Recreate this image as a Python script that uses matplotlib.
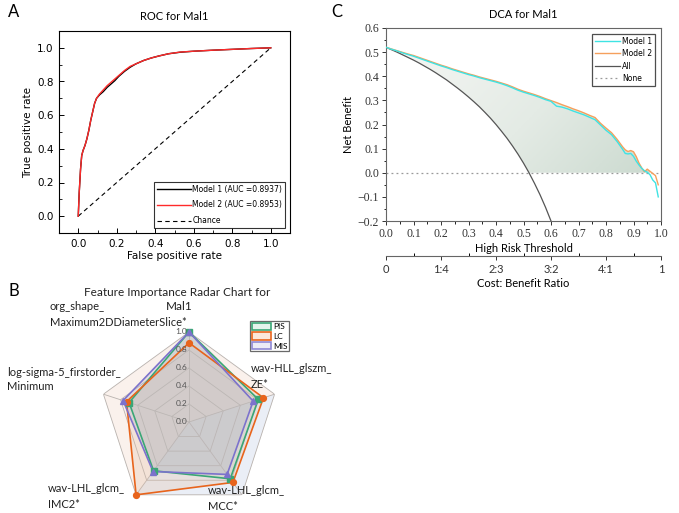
import numpy as np
import matplotlib
matplotlib.use('Agg')
import matplotlib.pyplot as plt
from matplotlib.patches import Patch
from matplotlib.path import Path
from matplotlib.colors import LinearSegmentedColormap

# ---------------- data ----------------
# ROC (panel A)
fpr = [0, 0.005, 0.012, 0.018, 0.025, 0.035, 0.045, 0.055, 0.065, 0.075, 0.085, 0.095,
       0.11, 0.13, 0.15, 0.17, 0.19, 0.21, 0.24, 0.27, 0.30, 0.34, 0.38, 0.42, 0.47,
       0.53, 0.60, 0.70, 0.80, 0.90, 1.0]
tpr_m1 = [0, 0.14, 0.28, 0.36, 0.39, 0.42, 0.46, 0.51, 0.57, 0.62, 0.67, 0.70,
          0.72, 0.74, 0.765, 0.785, 0.805, 0.83, 0.86, 0.885, 0.905, 0.925, 0.94, 0.952, 0.965,
          0.974, 0.98, 0.986, 0.991, 0.996, 1.0]
tpr_m2 = [0, 0.14, 0.28, 0.36, 0.39, 0.42, 0.46, 0.51, 0.57, 0.62, 0.67, 0.70,
          0.725, 0.75, 0.775, 0.795, 0.815, 0.835, 0.865, 0.89, 0.905, 0.925, 0.94, 0.952, 0.965,
          0.975, 0.98, 0.986, 0.991, 0.996, 1.0]
roc_labels = ['Model 1 (AUC =0.8937)', 'Model 2 (AUC =0.8953)', 'Chance']

# DCA (panel C)
thr = [0.00, 0.02, 0.04, 0.06, 0.08, 0.10, 0.12, 0.14, 0.16, 0.18, 0.20, 0.22, 0.24, 0.26,
       0.28, 0.30, 0.32, 0.34, 0.36, 0.38, 0.40, 0.42, 0.44, 0.46, 0.48, 0.50, 0.52, 0.54,
       0.56, 0.58, 0.60, 0.62, 0.64, 0.66, 0.68, 0.70, 0.72, 0.74, 0.76, 0.78, 0.80, 0.82,
       0.84, 0.86, 0.87, 0.88, 0.89, 0.90, 0.91, 0.92, 0.93, 0.94, 0.95, 0.96, 0.97, 0.98, 0.99]
nb_m1 = [0.520, 0.512, 0.505, 0.497, 0.490, 0.483, 0.475, 0.467, 0.459, 0.451, 0.443, 0.436,
         0.428, 0.421, 0.414, 0.407, 0.401, 0.394, 0.388, 0.382, 0.376, 0.369, 0.361, 0.352,
         0.342, 0.334, 0.327, 0.320, 0.312, 0.303, 0.296, 0.276, 0.272, 0.265, 0.256, 0.248,
         0.240, 0.230, 0.220, 0.198, 0.176, 0.158, 0.130, 0.098, 0.080, 0.078, 0.080, 0.068,
         0.048, 0.032, 0.018, 0.008, 0.002, -0.008, -0.030, -0.042, -0.100]
nb_m2 = [0.520, 0.513, 0.506, 0.499, 0.492, 0.486, 0.478, 0.470, 0.462, 0.454, 0.446, 0.439,
         0.431, 0.424, 0.417, 0.410, 0.404, 0.397, 0.391, 0.385, 0.379, 0.372, 0.365, 0.356,
         0.346, 0.338, 0.331, 0.324, 0.316, 0.307, 0.299, 0.291, 0.282, 0.274, 0.265, 0.257,
         0.248, 0.238, 0.229, 0.205, 0.185, 0.166, 0.139, 0.108, 0.095, 0.088, 0.092, 0.087,
         0.067, 0.040, 0.020, 0.004, 0.015, 0.006, -0.003, -0.012, -0.050]
nan = float('nan')
nb_all = [0.520, 0.510, 0.500, 0.489, 0.478, 0.467, 0.455, 0.442, 0.429, 0.415, 0.400, 0.385,
          0.368, 0.351, 0.333, 0.314, 0.294, 0.273, 0.250, 0.226, 0.200, 0.172, 0.143, 0.111,
          0.077, 0.040, 0.000, -0.044, -0.091, -0.143, -0.200, -0.263] + [nan] * 25
nb_none = [0.0] * len(thr)
ratio_pos = [0, 0.2, 0.4, 0.6, 0.8, 1.0]
ratio_labels = ['0', '1:4', '2:3', '3:2', '4:1', '1']

# Radar (panel B)
features = ['org_shape_\nMaximum2DDiameterSlice*', 'wav-HLL_glszm_\nZE*',
            'wav-LHL_glcm_\nMCC*', 'wav-LHL_glcm_\nIMC2*',
            'log-sigma-5_firstorder_\nMinimum']
pis = [1.00, 0.81, 0.78, 0.67, 0.70]
lc = [0.88, 0.87, 0.83, 1.00, 0.73]
mis = [1.00, 0.75, 0.72, 0.68, 0.77]
radial_ticks = [0.0, 0.2, 0.4, 0.6, 0.8, 1.0]

# ---------------- figure ----------------
W, H = 679, 513
fig = plt.figure(figsize=(W / 100, H / 100), dpi=100)


def fx(px):
    return px / W


def fy(py):
    return 1 - py / H


lato = ['Lato', 'DejaVu Sans']

# ---- A: ROC ----
ax1 = fig.add_axes([fx(59), fy(233), fx(290) - fx(59), fy(31) - fy(233)])
ax1.plot([0, 1], [0, 1], ls='--', color='black', lw=0.8, dashes=(4, 3), label=roc_labels[2])
ax1.plot(fpr, tpr_m1, color='black', lw=1.0, label=roc_labels[0])
ax1.plot(fpr, tpr_m2, color='#ff2a2a', lw=1.0, label=roc_labels[1])
ax1.set_xlim(-0.1, 1.1)
ax1.set_ylim(-0.1, 1.1)
ax1.set_xticks(np.arange(0, 1.01, 0.2))
ax1.set_yticks(np.arange(0, 1.01, 0.2))
ax1.set_xticks(np.arange(0.1, 1.0, 0.2), minor=True)
ax1.set_yticks(np.arange(0.1, 1.0, 0.2), minor=True)
ax1.tick_params(direction='in', length=3.5, width=0.7, labelsize=7.5, pad=4)
ax1.tick_params(which='minor', direction='in', length=2, width=0.6)
for s in ax1.spines.values():
    s.set_linewidth(0.8)
ax1.set_title('ROC for Mal1', fontsize=8, family=lato, pad=8)
ax1.set_xlabel('False positive rate', fontsize=7.5, labelpad=2)
ax1.set_ylabel('True positive rate', fontsize=7.5, labelpad=3)
h, l = ax1.get_legend_handles_labels()
ax1.legend([h[1], h[2], h[0]], [l[1], l[2], l[0]], loc='lower right', fontsize=5.5,
           frameon=True, fancybox=False, edgecolor='black', handlelength=4.5,
           borderaxespad=0.6, labelspacing=0.9, handletextpad=0.2).get_frame().set_linewidth(0.8)

# ---- C: DCA ----
ax2 = fig.add_axes([fx(386), fy(221), fx(661) - fx(386), fy(28) - fy(221)])
t = np.array(thr)
m1 = np.array(nb_m1)
m2 = np.array(nb_m2)
lower = np.fmax(np.array(nb_all), 0.0)
shade = ax2.fill_between(t, lower, m2, where=m2 >= lower, color='none', lw=0)
clip = Path.make_compound_path(*shade.get_paths())
gx, gy = np.meshgrid(np.linspace(0, 1, 200), np.linspace(0, 1, 200))
grad = gx * 0.75 + (1 - gy) * 0.5
cmap = LinearSegmentedColormap.from_list('dca', ['#f7f8f6', '#e4ebe5', '#c4d5c9'])
im = ax2.imshow(grad, extent=(0, 1, -0.2, 0.6), origin='lower', cmap=cmap,
                aspect='auto', zorder=1)
im.set_clip_path(clip, ax2.transData)
ax2.plot(t, nb_none, ls=(0, (1.5, 2.5)), color='#999999', lw=0.9, label='None', zorder=2)
ax2.plot(t, nb_all, color='#555555', lw=0.9, label='All', zorder=3)
ax2.plot(t, m2, color='#f5a05c', lw=1.0, label='Model 2', zorder=4)
ax2.plot(t, m1, color='#3fe3e3', lw=1.0, label='Model 1', zorder=5)
ax2.set_xlim(0, 1)
ax2.set_ylim(-0.2, 0.6)
ax2.set_xticks(np.arange(0, 1.01, 0.1))
ax2.set_yticks(np.arange(-0.2, 0.61, 0.1))
ax2.set_yticks(np.arange(-0.15, 0.6, 0.1), minor=True)
ax2.set_xticks(np.arange(0.05, 1.0, 0.1), minor=True)
ax2.set_xticklabels([f'{v:.1f}' for v in np.arange(0, 1.01, 0.1)])
ax2.set_yticklabels([f'{v:.1f}'.replace('-', '\u2212') for v in np.arange(-0.2, 0.61, 0.1)])
ax2.tick_params(direction='out', length=3, width=0.7, labelsize=8.5, pad=2, colors='#333333')
ax2.tick_params(which='minor', direction='out', length=1.8, width=0.6)
for lab in ax2.get_xticklabels() + ax2.get_yticklabels():
    lab.set_family(['Liberation Serif', 'DejaVu Serif'])
for s in ax2.spines.values():
    s.set_linewidth(0.8)
    s.set_color('#666666')
ax2.set_title('DCA for Mal1', fontsize=8, family=lato, pad=7)
ax2.set_xlabel('High Risk Threshold', fontsize=8, family=lato, labelpad=2)
ax2.set_ylabel('Net Benefit', fontsize=8, family=lato, labelpad=3)
h, l = ax2.get_legend_handles_labels()
leg2 = fig.legend([h[3], h[2], h[1], h[0]], [l[3], l[2], l[1], l[0]], loc='upper left',
                  bbox_to_anchor=(fx(592), fy(34)), fontsize=5.5, frameon=True,
                  fancybox=False, edgecolor='#222222', handlelength=3.3,
                  borderaxespad=0, borderpad=0.35, labelspacing=0.45, handletextpad=0.3)
leg2.get_frame().set_linewidth(0.9)

# secondary cost:benefit axis
ax3 = fig.add_axes([fx(386), fy(256), fx(661) - fx(386), 0.0001])
ax3.set_xlim(0, 1)
ax3.set_yticks([])
for s in ['top', 'left', 'right']:
    ax3.spines[s].set_visible(False)
ax3.spines['bottom'].set_color('#666666')
ax3.spines['bottom'].set_linewidth(0.8)
ax3.patch.set_visible(False)
ax3.set_xticks(ratio_pos)
ax3.set_xticklabels(ratio_labels, family=lato, fontsize=8)
ax3.set_xticks(np.arange(0.1, 1.0, 0.2), minor=True)
ax3.tick_params(direction='out', length=3, width=0.7, pad=3, colors='#333333')
ax3.tick_params(which='minor', direction='in', length=2.5, width=0.7)
ax3.set_xlabel('Cost: Benefit Ratio', fontsize=8, family=lato, labelpad=2)

# ---- B: radar ----
R = 90
axr = fig.add_axes([fx(189 - R), fy(422 + R), 2 * R / W, 2 * R / H], projection='polar')
axr.set_theta_offset(np.pi / 2)
axr.set_theta_direction(-1)
axr.set_ylim(0, 1)
axr.set_xticks([])
axr.set_yticks([])
axr.grid(False)
axr.spines['polar'].set_visible(False)
axr.patch.set_alpha(0)

n = len(features)
ang = np.linspace(0, 2 * np.pi, n, endpoint=False)
angc = np.append(ang, ang[0])


def closed(v):
    return list(v) + [v[0]]


axr.fill(angc, [1.0] * (n + 1), color='#faf1ec', lw=0, zorder=0)
axr.fill([ang[1], ang[2], ang[3], 0], [1.0, 1.0, 1.0, 0.0], color='#eaeef6', lw=0, zorder=0)
for r in radial_ticks[1:]:
    axr.plot(angc, [r] * (n + 1), color='#b8b2ae', lw=0.6, zorder=1)
for a in ang:
    axr.plot([a, a], [0, 1], color='#b8b2ae', lw=0.6, zorder=1)

series = [('PIS', pis, '#3aa676', '#a9c4b4', 's'),
          ('LC', lc, '#e8641c', '#e3c0a8', 'o'),
          ('MIS', mis, '#7c72cc', '#b0b0c8', '^')]
for name, vals, col, fcol, mk in series:
    axr.fill(angc, closed(vals), color=fcol, alpha=0.3, lw=0, zorder=2)
for name, vals, col, fcol, mk in series:
    axr.plot(angc, closed(vals), color=col, lw=1.2, zorder=3, clip_on=False)
    axr.plot(ang, vals, ls='none', marker=mk, ms=4.2, color=col, zorder=4, clip_on=False)

for r in radial_ticks:
    axr.annotate(f'{r:.1f}', xy=(0, r), xytext=(-5.5, 0), textcoords='offset points',
                 ha='center', va='center', fontsize=6, color='#555555', family=lato,
                 zorder=5)

# feature labels, one text per line
label_pos = [(50, 307), (251, 369), (208, 491), (48, 489), (7, 372)]
for txt, (px, py) in zip(features, label_pos):
    for k, line in enumerate(txt.split('\n')):
        fig.text(fx(px), fy(py + 15 * k), line, ha='left', va='center', fontsize=8,
                 family=lato, color='#222222')
fig.text(fx(177), fy(292), 'Feature Importance Radar Chart for', ha='center',
         va='center', fontsize=8.5, family=lato, color='#222222')
fig.text(fx(179), fy(307), 'Mal1', ha='center', va='center', fontsize=8.5, family=lato,
         color='#222222')

rleg = fig.legend(handles=[Patch(facecolor='#e5f3ec', edgecolor='#3aa676', lw=1.2, label='PIS'),
                           Patch(facecolor='#fbe8dc', edgecolor='#e8641c', lw=1.2, label='LC'),
                           Patch(facecolor='#ecebf6', edgecolor='#8e87d4', lw=1.2, label='MIS')],
                  loc='upper left', bbox_to_anchor=(fx(250), fy(321)),
                  frameon=True, fancybox=False, edgecolor='#444444', handlelength=2.3,
                  handleheight=1.0, labelspacing=0.25, borderpad=0.2, handletextpad=0.25,
                  borderaxespad=0, prop={'family': lato, 'size': 6})
rleg.get_frame().set_linewidth(0.9)

# panel letters
for letter, px, py in [('A', 8, 12), ('B', 8, 291), ('C', 331, 12)]:
    fig.text(fx(px), fy(py), letter, fontsize=12, family=lato, ha='left', va='center')

fig.savefig('out.png', dpi=100)
